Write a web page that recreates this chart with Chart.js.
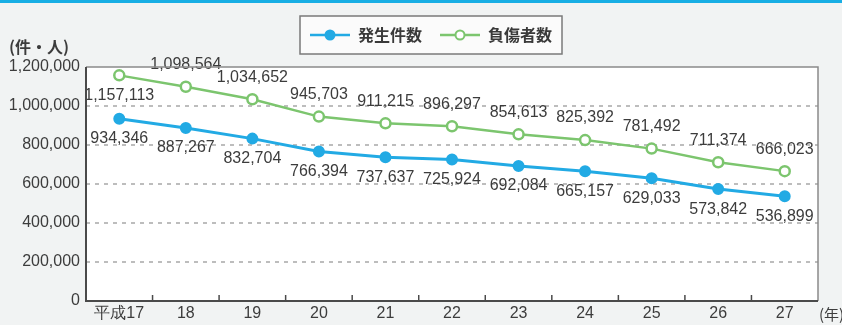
<!DOCTYPE html>
<html>
<head>
<meta charset="utf-8">
<script src="https://cdn.jsdelivr.net/npm/chart.js@4"></script>
<style>
  html, body { margin: 0; padding: 0; background: #f1f3f3; }
  #wrap { position: relative; width: 842px; height: 325px; border-top: 3px solid #18aee4; box-sizing: border-box; }
</style>
</head>
<body>
<div id="wrap"><canvas id="grafico" width="842" height="322"></canvas></div>
<script>
const anos = ["平成17", "18", "19", "20", "21", "22", "23", "24", "25", "26", "27"];
const hasseiKensu = [934346, 887267, 832704, 766394, 737637, 725924, 692084, 665157, 629033, 573842, 536899];
const fushoshaSu = [1157113, 1098564, 1034652, 945703, 911215, 896297, 854613, 825392, 781492, 711374, 666023];
const nomes = ["発生件数", "負傷者数"];
const yTicks = [0, 200000, 400000, 600000, 800000, 1000000, 1200000];

const azul = "#22aae4";
const verde = "#7cc56e";
const fonte = "'Liberation Sans', Arial, sans-serif";
const fonteJp = "'Noto Sans CJK JP', sans-serif";

// fundo branco da area do grafico, moldura, marcas do eixo x, rotulos
const extras = {
    id: "extras",
    beforeDraw(chart) {
        const { ctx, chartArea: a } = chart;
        ctx.save();
        ctx.fillStyle = "#ffffff";
        ctx.fillRect(a.left, a.top, a.right - a.left, a.bottom - a.top);
        ctx.restore();
    },
    afterDatasetsDraw(chart) {
        const { ctx } = chart;
        ctx.save();
        ctx.font = "16px " + fonte;
        ctx.fillStyle = "#3c3c3c";
        ctx.textAlign = "center";
        ctx.textBaseline = "middle";
        chart.data.datasets.forEach((ds, i) => {
            const meta = chart.getDatasetMeta(i);
            meta.data.forEach((pt, j) => {
                const txt = ds.data[j].toLocaleString("en-US");
                let dy = i === 0 ? 20 : -22;
                if (i === 1 && j === 0) dy = 20;
                ctx.fillText(txt, pt.x, pt.y + dy);
            });
        });
        ctx.restore();
    },
    afterDraw(chart) {
        const { ctx, chartArea: a, scales } = chart;
        ctx.save();
        // moldura
        ctx.strokeStyle = "#8a8a8a";
        ctx.lineWidth = 1.5;
        ctx.beginPath();
        ctx.moveTo(a.left, a.top);
        ctx.lineTo(a.right, a.top);
        ctx.lineTo(a.right, a.bottom);
        ctx.stroke();
        ctx.strokeStyle = "#4a4a4a";
        ctx.lineWidth = 2;
        ctx.beginPath();
        ctx.moveTo(a.left, a.top);
        ctx.lineTo(a.left, a.bottom);
        ctx.lineTo(a.right, a.bottom);
        ctx.stroke();
        // marcas entre categorias
        const x = scales.x;
        ctx.lineWidth = 1.5;
        for (let i = 1; i < anos.length; i++) {
            const px = (x.getPixelForTick(i - 1) + x.getPixelForTick(i)) / 2;
            ctx.beginPath();
            ctx.moveTo(px, a.bottom);
            ctx.lineTo(px, a.bottom - 6);
            ctx.stroke();
        }
        // titulos dos eixos
        ctx.fillStyle = "#3c3c3c";
        ctx.font = "bold 16px " + fonteJp;
        ctx.textBaseline = "middle";
        ctx.textAlign = "left";
        ctx.fillText("(件・人)", 9, a.top - 20);
        ctx.font = "15px " + fonteJp;
        ctx.fillText("(年)", a.right + 1, a.bottom + 13);
        // legenda
        const lx = 300, ly = 13, lw = 262, lh = 38;
        ctx.fillStyle = "#fbfbfb";
        ctx.fillRect(lx, ly, lw, lh);
        ctx.strokeStyle = "#7a7a7a";
        ctx.lineWidth = 1.5;
        ctx.strokeRect(lx, ly, lw, lh);
        const cy = ly + lh / 2;
        chart.data.datasets.forEach((ds, i) => {
            const x0 = lx + 10 + i * 130;
            ctx.strokeStyle = ds.borderColor;
            ctx.lineWidth = 2.5;
            ctx.beginPath();
            ctx.moveTo(x0, cy);
            ctx.lineTo(x0 + 40, cy);
            ctx.stroke();
            ctx.beginPath();
            ctx.arc(x0 + 20, cy, 4.5, 0, Math.PI * 2);
            ctx.fillStyle = ds.pointBackgroundColor;
            ctx.fill();
            ctx.lineWidth = 2;
            ctx.stroke();
            ctx.fillStyle = "#3a3a3a";
            ctx.font = "bold 16px " + fonteJp;
            ctx.fillText(ds.label, x0 + 48, cy);
        });
        ctx.restore();
    }
};

const ctx = document.getElementById("grafico").getContext("2d");

new Chart(ctx, {
    type: "line",
    data: {
        labels: anos,
        datasets: [
            {
                label: nomes[0],
                data: hasseiKensu,
                borderColor: azul,
                backgroundColor: azul,
                pointBackgroundColor: azul,
                pointBorderColor: azul,
                borderWidth: 3,
                pointRadius: 5,
                pointBorderWidth: 2,
                tension: 0,
            },
            {
                label: nomes[1],
                data: fushoshaSu,
                borderColor: verde,
                backgroundColor: "#ffffff",
                pointBackgroundColor: "#ffffff",
                pointBorderColor: verde,
                borderWidth: 2.5,
                pointRadius: 5,
                pointBorderWidth: 2.5,
                tension: 0,
            },
        ],
    },
    options: {
        responsive: false,
        animation: false,
        layout: { padding: { top: 64, right: 24, left: 0, bottom: 0 } },
        plugins: {
            legend: { display: false },
            tooltip: { enabled: false },
        },
        scales: {
            x: {
                offset: true,
                grid: { display: false, drawTicks: false },
                border: { display: false },
                afterFit(scale) { scale.height = 24; },
                ticks: {
                    color: "#3c3c3c",
                    font: { family: fonte, size: 16 },
                    padding: 3,
                    maxRotation: 0,
                    autoSkip: false,
                },
            },
            y: {
                min: 0,
                max: 1200000,
                afterFit(scale) { scale.width = 86; },
                afterBuildTicks(scale) { scale.ticks = yTicks.map(v => ({ value: v })); },
                border: { display: false, dash: [4, 5] },
                grid: {
                    drawTicks: false,
                    lineWidth: 2,
                    color: (c) => (c.tick && (c.tick.value === 0 || c.tick.value === 1200000)) ? "rgba(0,0,0,0)" : "#bdbdbd",
                },
                ticks: {
                    color: "#3c3c3c",
                    font: { family: fonte, size: 16 },
                    padding: 6,
                    callback: (v) => v.toLocaleString("en-US"),
                },
            },
        },
    },
    plugins: [extras],
});
</script>
</body>
</html>
